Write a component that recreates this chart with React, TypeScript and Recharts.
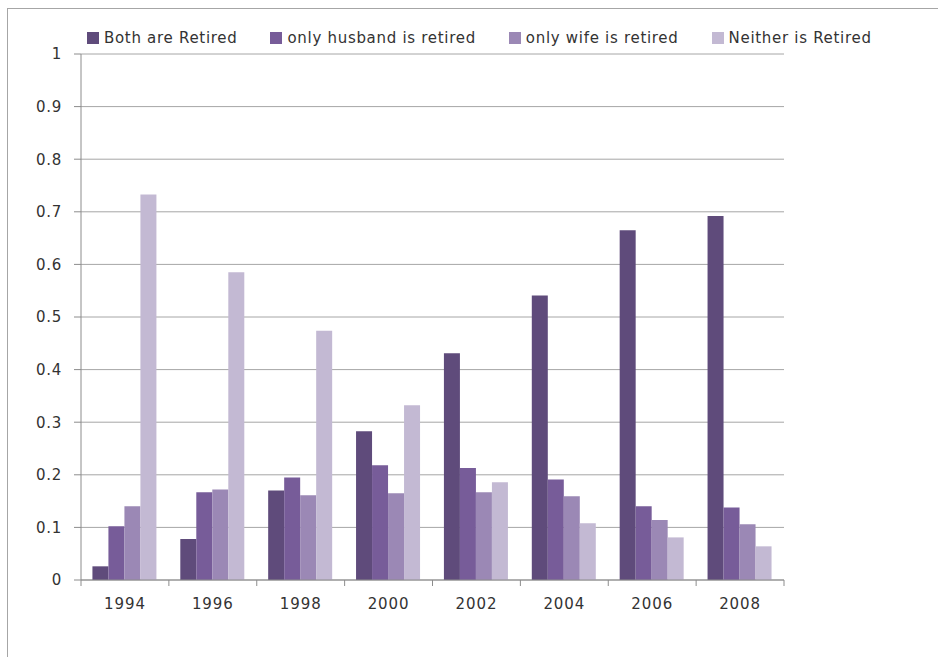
import React from "react";
import { BarChart, Bar, XAxis, YAxis, CartesianGrid, Legend } from "recharts";

const years = ["1994", "1996", "1998", "2000", "2002", "2004", "2006", "2008"];
const bothRetired = [0.026, 0.078, 0.17, 0.283, 0.431, 0.541, 0.665, 0.692];
const husbandRetired = [0.102, 0.167, 0.195, 0.218, 0.213, 0.191, 0.14, 0.138];
const wifeRetired = [0.14, 0.172, 0.161, 0.165, 0.167, 0.159, 0.114, 0.106];
const neitherRetired = [0.733, 0.585, 0.474, 0.332, 0.186, 0.108, 0.081, 0.064];
const yTicks = [0, 0.1, 0.2, 0.3, 0.4, 0.5, 0.6, 0.7, 0.8, 0.9, 1];

const SERIES = [
  { key: "both", name: "Both are Retired", color: "#5f4b7b" },
  { key: "husband", name: "only husband is retired", color: "#775c99" },
  { key: "wife", name: "only wife is retired", color: "#9b88b5" },
  { key: "neither", name: "Neither is Retired", color: "#c3b9d3" },
];

const FONT = "'DejaVu Sans', sans-serif";
const AXIS = "#8c8c8c";
const X_TICK_MARGIN = 18;

const data = years.map((year, i) => ({
  year,
  both: bothRetired[i],
  husband: husbandRetired[i],
  wife: wifeRetired[i],
  neither: neitherRetired[i],
}));

// category label plus tick marks on the category boundaries
function YearTick(props: any) {
  const { x, y, payload, index } = props;
  const half = payload.offset || 0;
  const top = y - X_TICK_MARGIN;
  return (
    <g>
      <line x1={x - half} x2={x - half} y1={top} y2={top + 6} stroke={AXIS} />
      {index === years.length - 1 && (
        <line x1={x + half} x2={x + half} y1={top} y2={top + 6} stroke={AXIS} />
      )}
      <text
        x={x}
        y={y + 11}
        textAnchor="middle"
        fontSize={15}
        fontFamily={FONT}
        letterSpacing={0.9}
        fill="#333"
      >
        {payload.value}
      </text>
    </g>
  );
}

function LegendRow() {
  return (
    <div
      style={{
        display: "flex",
        gap: 33,
        fontFamily: FONT,
        fontSize: 15,
        letterSpacing: 0.7,
        color: "#333",
        whiteSpace: "nowrap",
      }}
    >
      {SERIES.map((s) => (
        <div key={s.key} style={{ display: "flex", alignItems: "center" }}>
          <span style={{ width: 12, height: 12, background: s.color, marginRight: 5 }} />
          <span>{s.name}</span>
        </div>
      ))}
    </div>
  );
}

export default function App() {
  return (
    <div style={{ position: "absolute", left: 0, top: 0, width: 938, height: 657, background: "#fff" }}>
      <div
        style={{
          position: "absolute",
          left: 7,
          top: 8,
          width: 931,
          height: 649,
          borderLeft: "1px solid #a6a6a6",
          borderTop: "1px solid #a6a6a6",
          boxSizing: "border-box",
        }}
      />
      <div style={{ position: "absolute", left: 0, top: 0 }}>
        <BarChart
          width={938}
          height={657}
          data={data}
          margin={{ top: 36, right: 154, bottom: 37, left: 0 }}
          barCategoryGap="13%"
          barGap={0}
        >
          <CartesianGrid vertical={false} stroke="#a6a6a6" />
          <XAxis
            dataKey="year"
            height={40}
            tickSize={0}
            tickMargin={X_TICK_MARGIN}
            tickLine={false}
            axisLine={{ stroke: AXIS }}
            tick={<YearTick />}
            interval={0}
          />
          <YAxis
            width={81}
            domain={[0, 1]}
            ticks={yTicks}
            tickSize={7}
            tickMargin={12}
            axisLine={{ stroke: AXIS }}
            tickLine={{ stroke: AXIS }}
            tick={{ fontSize: 15, fontFamily: FONT, fill: "#333", letterSpacing: 0.7 }}
          />
          <Legend
            verticalAlign="top"
            align="left"
            content={() => <LegendRow />}
            wrapperStyle={{ top: 29, left: 87, width: "auto" }}
          />
          {SERIES.map((s) => (
            <Bar key={s.key} dataKey={s.key} name={s.name} fill={s.color} isAnimationActive={false} />
          ))}
        </BarChart>
      </div>
    </div>
  );
}
